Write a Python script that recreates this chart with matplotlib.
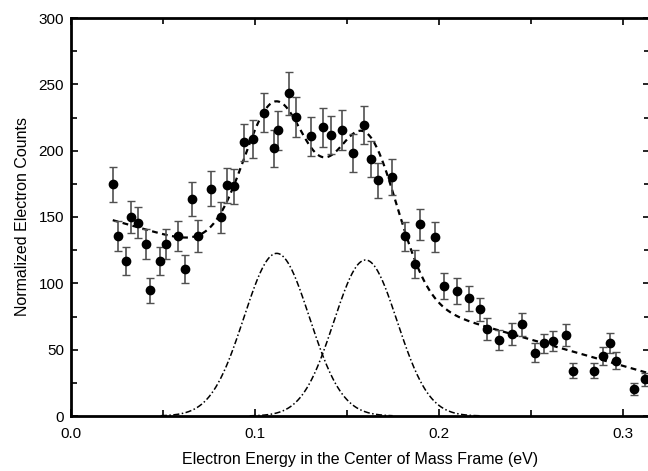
import numpy as np
import matplotlib
matplotlib.use("Agg")
import matplotlib.pyplot as plt
from matplotlib.ticker import MultipleLocator

# Data
energy = [0.0227, 0.0254, 0.0299, 0.0324, 0.0366, 0.0408, 0.0431, 0.0482, 0.0514,
          0.0580, 0.0618, 0.0658, 0.0692, 0.0759, 0.0815, 0.0848, 0.0886, 0.0942,
          0.0989, 0.1047, 0.1105, 0.1125, 0.1187, 0.1223, 0.1306, 0.1371, 0.1413,
          0.1475, 0.1533, 0.1592, 0.1630, 0.1670, 0.1743, 0.1815, 0.1870, 0.1897,
          0.1980, 0.2029, 0.2100, 0.2161, 0.2225, 0.2263, 0.2326, 0.2395, 0.2451,
          0.2523, 0.2569, 0.2618, 0.2692, 0.2730, 0.2844, 0.2891, 0.2929, 0.2964,
          0.3061, 0.3118]
counts = [174.6, 135.4, 117.0, 150.2, 145.7, 130.0, 94.7, 117.0, 129.8,
          135.6, 110.8, 163.5, 135.6, 171.3, 149.7, 173.8, 173.1, 206.3,
          209.0, 228.6, 201.7, 215.5, 243.2, 225.5, 210.7, 217.5, 212.0,
          215.5, 198.0, 219.3, 193.7, 177.8, 180.3, 135.4, 114.5, 144.5,
          134.9, 97.7, 94.2, 88.9, 80.6, 65.6, 57.3, 62.0, 69.1,
          47.8, 54.8, 56.5, 60.8, 34.2, 34.2, 45.2, 55.0, 41.7,
          20.1, 27.7]
errors = [13.1, 11.4, 10.7, 11.9, 11.9, 11.3, 9.4, 10.7, 11.3,
          11.6, 10.6, 12.7, 11.8, 13.2, 11.9, 13.2, 13.2, 13.8,
          14.4, 14.7, 13.8, 14.7, 16.0, 15.1, 14.5, 14.5, 14.5,
          14.8, 14.3, 14.6, 13.8, 13.2, 13.4, 11.2, 10.7, 11.9,
          11.5, 9.8, 9.5, 9.4, 8.7, 8.2, 7.5, 8.2, 8.5,
          7.0, 7.3, 7.3, 8.4, 5.9, 5.9, 7.0, 7.5, 6.5,
          4.4, 5.0]

# fitted model: two gaussian peaks on a linear background
peak_amp = [122.6, 117.6]
peak_center = [0.1118, 0.1601]
peak_sigma = [0.0178, 0.0172]
bg_intercept = 156.6
bg_slope = -396.0


def gauss(x, a, c, s):
    return a * np.exp(-(x - c) ** 2 / (2 * s ** 2))


plt.rcParams["font.family"] = ["Liberation Sans", "DejaVu Sans"]

fig = plt.figure(figsize=(6.48, 4.71), dpi=100)
ax = fig.add_axes([71 / 648, 55 / 471, 579 / 648, 398 / 471])

# total fit (dashed)
xf = np.linspace(energy[0], 0.3147, 400)
total = bg_intercept + bg_slope * xf
for a, c, s in zip(peak_amp, peak_center, peak_sigma):
    total = total + gauss(xf, a, c, s)
ax.plot(xf, total, color="black", lw=1.6, ls=(0, (2.6, 2.0)), zorder=3)

# individual peaks (dash-dot)
for a, c, s in zip(peak_amp, peak_center, peak_sigma):
    xg = np.linspace(c - 0.063, c + 0.063, 300)
    ax.plot(xg, gauss(xg, a, c, s), color="black", lw=1.1,
            ls=(0, (4, 1.6, 1, 1.6)), zorder=3)

ax.errorbar(energy, counts, yerr=errors, fmt="o", color="black", ms=6,
            ecolor="#505050", elinewidth=1.2, capsize=3, capthick=1.0, zorder=4)

ax.set_xlim(0, 0.3147)
ax.set_ylim(0, 300)
ax.xaxis.set_major_locator(MultipleLocator(0.1))
ax.xaxis.set_minor_locator(MultipleLocator(0.05))
ax.yaxis.set_major_locator(MultipleLocator(50))
ax.yaxis.set_minor_locator(MultipleLocator(25))
ax.set_xticks([0.0, 0.1, 0.2, 0.3])
ax.set_xticklabels(["0.0", "0.1", "0.2", "0.3"])

ax.tick_params(which="both", direction="in", top=True, right=True,
               width=1.2, labelsize=11)
ax.tick_params(which="major", length=5)
ax.tick_params(which="minor", length=4)
ax.tick_params(axis="x", pad=8)
ax.tick_params(axis="y", pad=5)
for sp in ax.spines.values():
    sp.set_linewidth(2)

ax.set_xlabel("Electron Energy in the Center of Mass Frame (eV)", fontsize=11.5, labelpad=8)
ax.set_ylabel("Normalized Electron Counts", fontsize=11.5, labelpad=6)

fig.savefig("out.png", dpi=100)
